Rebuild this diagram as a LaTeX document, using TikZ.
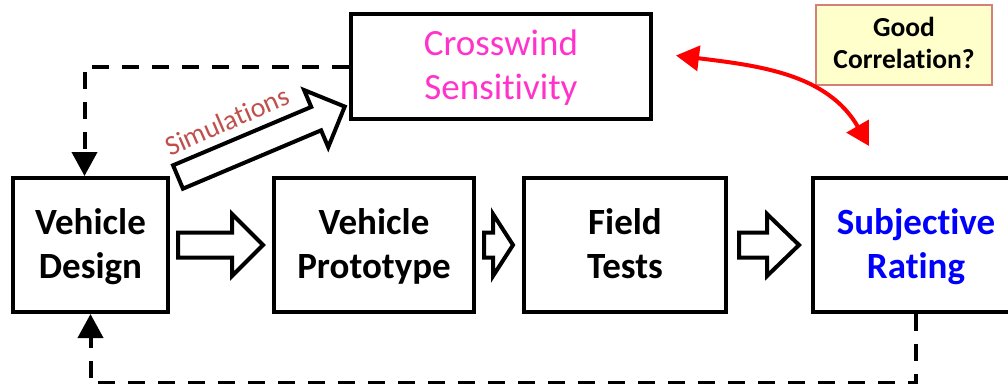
\documentclass[tikz,border=0pt]{standalone}
\usepackage{fontspec}
\setmainfont{Carlito}[Ligatures=NoCommon]
\usetikzlibrary{arrows.meta,calc}
\definecolor{crossmag}{HTML}{FF33CC}
\definecolor{simcol}{HTML}{C0504D}
\definecolor{goodfill}{HTML}{FFFFCC}
\definecolor{gooddraw}{HTML}{D47F7A}
\newcommand\topstrut{\rule{0pt}{31pt}}
\newcommand\botstrut{\rule[-9pt]{0pt}{9pt}}
\newcommand\blockarr[3]{%
  \draw[blockarrow] ($(#1)+(0,12.5)$) -- ($(#2)+(-#3,12.5)$) -- ($(#2)+(-#3,31)$) -- (#2)
    -- ($(#2)+(-#3,-31)$) -- ($(#2)+(-#3,-12.5)$) -- ($(#1)+(0,-12.5)$) -- cycle;}
\begin{document}
\begin{tikzpicture}[x=1pt,y=1pt,
  box/.style={draw,line width=4pt,align=center,inner sep=0pt,
    font=\bfseries\fontsize{37}{44}\selectfont},
  blockarrow/.style={draw,line width=4pt,fill=white,line join=miter},
  fb/.style={draw,line width=4pt,dash pattern=on 17pt off 13pt,
    -{Triangle[width=25pt,length=24pt]}},
  corr/.style={draw=red,line width=4pt,
    {Triangle[width=25pt,length=23pt]}-{Triangle[width=25pt,length=23pt]}}]
\useasboundingbox (0,0) rectangle (1008,-383);
% main boxes
\node[box,minimum width=155pt,minimum height=134pt] (design) at (90.5,-245) {\topstrut Vehicle\\Design\botstrut};
\node[box,minimum width=200pt,minimum height=134pt] (proto) at (374,-245) {\topstrut Vehicle\\Prototype\botstrut};
\node[box,minimum width=202pt,minimum height=134pt] (field) at (625,-245) {\topstrut Field\\Tests\botstrut};
\node[box,minimum width=206pt,minimum height=134pt,text=blue] (subj) at (916,-245) {\topstrut Subjective\\Rating\botstrut};
\node[box,minimum width=300pt,minimum height=105pt,text=crossmag,
  font=\fontsize{37}{44}\selectfont] (cross) at (501,-66.5) {\topstrut Crosswind\\Sensitivity\botstrut};
\node[draw=gooddraw,fill=goodfill,line width=1.5pt,minimum width=176pt,minimum height=80pt,
  inner sep=0pt,align=center,font=\bfseries\fontsize{27.5}{32}\selectfont] (good) at (904,-45) {Good\\Correlation?\rule[-5pt]{0pt}{5pt}};
% block arrows
\coordinate (a1s) at ($(design.east)+(8,0)$);
\coordinate (a1e) at ($(proto.west)+(-9,0)$);
\coordinate (a2s) at ($(proto.east)+(8,0)$);
\coordinate (a2e) at ($(field.west)+(-9,0)$);
\coordinate (a3s) at ($(field.east)+(11,0)$);
\coordinate (a3e) at ($(subj.west)+(-12,0)$);
\blockarr{a1s}{a1e}{31}
\blockarr{a2s}{a2e}{20}
\blockarr{a3s}{a3e}{32}
% simulations arrow
\coordinate (simtail) at ($(design.north east)+(8,-1)$);
\begin{scope}[shift={(simtail)},rotate=22.9]
  \draw[blockarrow] (0,12.7) -- (150,12.7) -- (150,31) -- (181,0) -- (150,-31) -- (150,-12.7) -- (0,-12.7) -- cycle;
\end{scope}
\node[rotate=23.5,text=simcol,font=\fontsize{28}{30}\selectfont,inner sep=0pt] (simlabel) at (227,-121) {Simulations};
% feedback dashed lines
\draw[fb] (cross.west) -| ($(design.north)+(-6,0)$);
\draw[fb] (subj.south) -- ++(0,-69) -| (design.south);
% correlation arrow
\coordinate (ca) at ($(cross.east)+(23,11)$);
\coordinate (cb) at ($(subj.north)+(-47,30)$);
\draw[corr] (ca) to[out=-7,in=120] (cb);
\end{tikzpicture}
\end{document}
